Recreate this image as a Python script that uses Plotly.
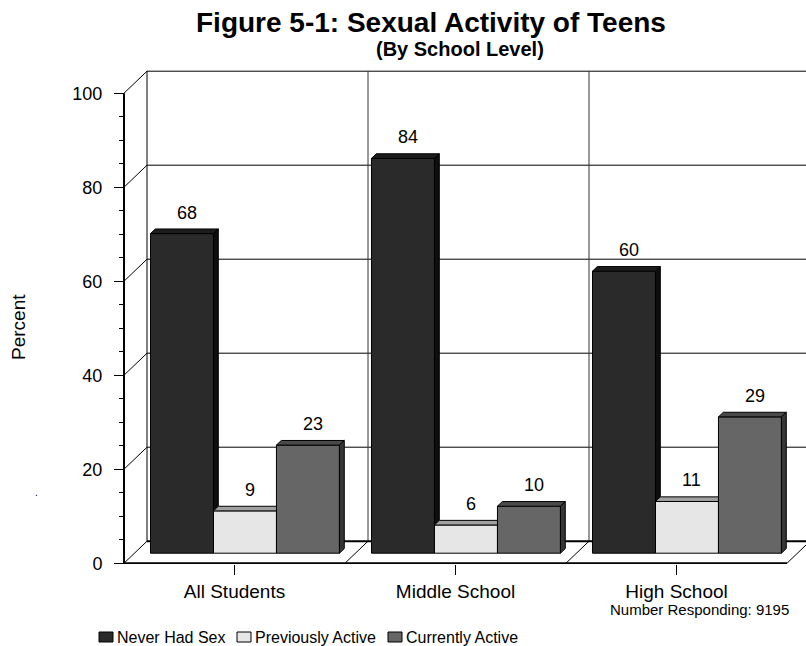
import plotly.graph_objects as go

# ---- data -------------------------------------------------------------
categories = ["All Students", "Middle School", "High School"]
series_names = ["Never Had Sex", "Previously Active", "Currently Active"]
never_had_sex = [68, 84, 60]
previously_active = [9, 6, 11]
currently_active = [23, 10, 29]
y_ticks = [0, 20, 40, 60, 80, 100]
respondents = 9195

series_values = [never_had_sex, previously_active, currently_active]

# face colours per series: (front, top, side)
face_colors = [
    ("#2a2a2a", "#1c1c1c", "#0e0e0e"),
    ("#e6e6e6", "#a0a0a0", "#8a8a8a"),
    ("#666666", "#4a4a4a", "#363636"),
]

FONT = "Arial, 'Liberation Sans', sans-serif"

# ---- geometry of the pseudo-3D box --------------------------------------
W, H = 806, 646
ML, MR, MT, MB = 120, 0, 70, 82
PX_CAT = 221.0      # pixels per category slot
PX_PCT = 4.7        # pixels per percentage point
X0_PX = 124.0       # pixel column of the front-left corner
Y0_PX = 563.2       # pixel row of the 0 % floor edge

plot_w = W - ML - MR
plot_h = H - MT - MB
x_lo = (ML - X0_PX) / PX_CAT
x_hi = x_lo + plot_w / PX_CAT
y_lo = -((MT + plot_h) - Y0_PX) / PX_PCT
y_hi = y_lo + plot_h / PX_PCT

DEPTH_X = 23 / PX_CAT          # oblique shift of the back wall (x units)
DEPTH_Y = 22 / PX_PCT          # oblique shift of the back wall (y units)
BAR_Z0 = 0.455                 # depth of bar front faces (fraction of box)
BAR_DZ = 0.21                  # bar thickness (fraction of box)
BARGAP = 0.145
n_series = len(series_values)
bar_w = (1 - BARGAP) / n_series
ddx = BAR_DZ * DEPTH_X
ddy = BAR_DZ * DEPTH_Y
bar_base = BAR_Z0 * DEPTH_Y
front_shift = BAR_Z0 * DEPTH_X
n_cat = len(categories)


def px_x(px):
    return (px - ML) / plot_w


def px_y(py):
    return (H - MB - py) / plot_h


fig = go.Figure()

# ---- front faces of the bars ------------------------------------------
for k, (name, vals) in enumerate(zip(series_names, series_values)):
    fig.add_trace(go.Bar(
        name=name,
        x=[i + 0.5 + front_shift for i in range(n_cat)],
        y=vals,
        base=bar_base,
        width=bar_w,
        offset=(k - n_series / 2) * bar_w,
        marker=dict(color=face_colors[k][0], line=dict(color="black", width=1)),
        showlegend=False,
        hoverinfo="skip",
    ))


def add_poly(xs, ys, color):
    fig.add_trace(go.Scatter(
        x=xs + [xs[0]], y=ys + [ys[0]], mode="lines", fill="toself",
        fillcolor=color, line=dict(color="black", width=1),
        showlegend=False, hoverinfo="skip",
    ))


# ---- top and side faces, hidden parts trimmed against the next bar -----
annotations = []
for i in range(n_cat):
    for k in range(n_series):
        v = series_values[k][i]
        xl = i + 0.5 + front_shift + (k - n_series / 2) * bar_w
        xr = xl + bar_w
        top = bar_base + v
        nxt = bar_base + series_values[k + 1][i] if k < n_series - 1 else None

        if nxt is not None and nxt >= top + ddy:
            add_poly([xl, xr, xr, xl + ddx],
                     [top, top, top + ddy, top + ddy], face_colors[k][1])
        else:
            add_poly([xl, xr, xr + ddx, xl + ddx],
                     [top, top, top + ddy, top + ddy], face_colors[k][1])

        low = bar_base if nxt is None else nxt
        if low < top:
            add_poly([xr, xr, xr + ddx, xr + ddx],
                     [low, top, top + ddy, low + ddy], face_colors[k][2])

        annotations.append(dict(
            x=(xl + xr) / 2 + 4.7 / PX_CAT, y=top, xref="x", yref="y",
            text=str(v), showarrow=False, yshift=21, yanchor="middle",
            font=dict(family=FONT, size=18, color="black"),
        ))

# ---- walls and floor ----------------------------------------------------
shapes = []


def seg(x0, y0, x1, y1, width=1, color="black"):
    shapes.append(dict(type="line", xref="x", yref="y", x0=x0, y0=y0,
                       x1=x1, y1=y1, layer="below",
                       line=dict(color=color, width=width)))


top_v = y_ticks[-1]
for v in y_ticks:
    seg(0, v, DEPTH_X, v + DEPTH_Y)                       # left wall
    if v > 0:
        seg(DEPTH_X, v + DEPTH_Y, n_cat + DEPTH_X, v + DEPTH_Y)   # back wall
for j in range(n_cat + 1):
    seg(j + DEPTH_X, DEPTH_Y, j + DEPTH_X, top_v + DEPTH_Y,
        color="black" if j == 0 else "#333333")
    if j > 0:
        seg(j, 0, j + DEPTH_X, DEPTH_Y)                   # floor dividers
seg(DEPTH_X, DEPTH_Y, n_cat + DEPTH_X, DEPTH_Y, width=2)  # floor back edge
seg(0, 0, n_cat, 0, width=2)                              # floor front edge
seg(0, 0, 0, top_v, width=2)                              # value axis

# ---- custom legend --------------------------------------------------------
legend_items = [(99, 115), (237, 253), (388, 404)]
for k, (bx, tx) in enumerate(legend_items):
    shapes.append(dict(type="rect", xref="paper", yref="paper",
                       x0=px_x(bx), x1=px_x(bx + 14), y0=px_y(642), y1=px_y(632),
                       fillcolor=face_colors[k][0], line=dict(color="black", width=1)))
    annotations.append(dict(
        x=px_x(tx), y=px_y(637), xref="paper", yref="paper", text=series_names[k],
        showarrow=False, xanchor="left", yanchor="middle",
        font=dict(family=FONT, size=16, color="black"),
    ))

# ---- titles and notes -------------------------------------------------------
annotations += [
    dict(x=px_x(431), y=px_y(22.5), xref="paper", yref="paper",
         text="<b>Figure 5-1: Sexual Activity of Teens</b>", showarrow=False,
         xanchor="center", yanchor="middle",
         font=dict(family=FONT, size=28, color="black")),
    dict(x=px_x(459.5), y=px_y(49.5), xref="paper", yref="paper",
         text="<b>(By School Level)</b>", showarrow=False,
         xanchor="center", yanchor="middle",
         font=dict(family=FONT, size=20, color="black")),
    dict(x=px_x(18), y=px_y(327), xref="paper", yref="paper", text="Percent",
         textangle=-90, showarrow=False, xanchor="center", yanchor="middle",
         font=dict(family=FONT, size=19, color="black")),
    dict(x=px_x(699), y=px_y(609), xref="paper", yref="paper",
         text=f"Number Responding: {respondents}", showarrow=False,
         xanchor="center", yanchor="middle",
         font=dict(family=FONT, size=15, color="black")),
    dict(x=px_x(36), y=px_y(492), xref="paper", yref="paper", text=".",
         showarrow=False, xanchor="center", yanchor="middle",
         font=dict(family=FONT, size=10, color="black")),
]

fig.update_layout(
    width=W, height=H,
    margin=dict(l=ML, r=MR, t=MT, b=MB, pad=0),
    paper_bgcolor="white", plot_bgcolor="white",
    barmode="overlay",
    showlegend=False,
    shapes=shapes,
    annotations=annotations,
    font=dict(family=FONT, color="black"),
    xaxis=dict(
        range=[x_lo, x_hi], showgrid=False, zeroline=False, showline=False,
        tickmode="array", tickvals=[i + 0.5 for i in range(n_cat)],
        ticktext=categories, ticks="outside", ticklen=10, tickwidth=1,
        tickcolor="black", tickfont=dict(family=FONT, size=19, color="black"),
        fixedrange=True,
    ),
    yaxis=dict(
        range=[y_lo, y_hi], showgrid=False, zeroline=False, showline=False,
        anchor="free", position=(X0_PX - ML) / plot_w,
        tickmode="linear", tick0=0, dtick=20,
        ticks="outside", ticklen=10, tickwidth=1, tickcolor="black",
        ticklabelstandoff=8,
        tickfont=dict(family=FONT, size=18, color="black"),
        minor=dict(ticks="outside", ticklen=5, dtick=5, tick0=0,
                   tickcolor="black", tickwidth=1, showgrid=False),
        fixedrange=True,
    ),
)

fig.write_html("out.html", config={"displayModeBar": False})
